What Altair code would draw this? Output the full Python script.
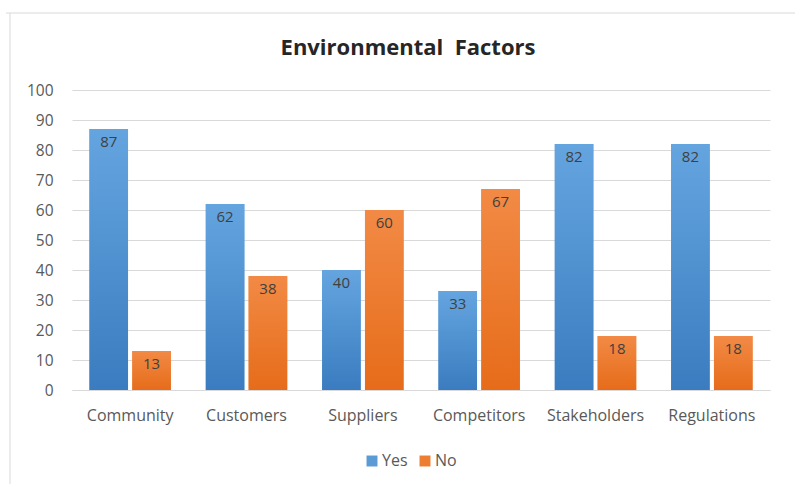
import altair as alt
import pandas as pd

categories = ["Community", "Customers", "Suppliers", "Competitors", "Stakeholders", "Regulations"]
yes_values = [87, 62, 40, 33, 82, 82]
no_values = [13, 38, 60, 67, 18, 18]
series = ["Yes", "No"]

rows = []
for c, y, n in zip(categories, yes_values, no_values):
    rows.append({"category": c, "series": "Yes", "value": y})
    rows.append({"category": c, "series": "No", "value": n})
df = pd.DataFrame(rows)

FONT = "Open Sans"

x_enc = alt.X("category:N", sort=categories, title=None,
              scale=alt.Scale(paddingInner=0.3, paddingOuter=0.15),
              axis=alt.Axis(labelAngle=0, labelFontSize=16, labelColor="#595959",
                            labelFont=FONT, ticks=False, domainColor="#D9D9D9",
                            labelPadding=17, grid=False))
xo_enc = alt.XOffset("series:N", sort=series, scale=alt.Scale(paddingInner=0.1))
y_enc = alt.Y("value:Q", title=None,
              scale=alt.Scale(domain=[0, 100]),
              axis=alt.Axis(values=list(range(0, 101, 10)), labelFontSize=15.5,
                            labelColor="#595959", labelFont=FONT, ticks=False,
                            domain=False, gridColor="#D9D9D9", labelPadding=19))

base = alt.Chart(df)

legend_bars = base.mark_bar().encode(
    x=x_enc, xOffset=xo_enc, y=y_enc,
    color=alt.Color("series:N", sort=series,
                    scale=alt.Scale(domain=series, range=["#5B9BD5", "#ED7D31"]),
                    legend=alt.Legend(title=None, orient="none", direction="horizontal",
                                      legendX=292, legendY=363, symbolType="square",
                                      symbolSize=120, labelFontSize=16, labelFont=FONT,
                                      labelColor="#595959", columnPadding=9,
                                      symbolStrokeWidth=0, labelOffset=2))
)

blue_grad = alt.Gradient(gradient="linear", x1=0, y1=0, x2=0, y2=1,
                         stops=[alt.GradientStop(color="#64A5E0", offset=0),
                                alt.GradientStop(color="#3B7CC0", offset=1)])
orange_grad = alt.Gradient(gradient="linear", x1=0, y1=0, x2=0, y2=1,
                           stops=[alt.GradientStop(color="#F28A45", offset=0),
                                  alt.GradientStop(color="#E66C1A", offset=1)])

yes_bars = base.transform_filter(alt.datum.series == "Yes").mark_bar(color=blue_grad).encode(
    x=x_enc, xOffset=xo_enc, y=y_enc)
no_bars = base.transform_filter(alt.datum.series == "No").mark_bar(color=orange_grad).encode(
    x=x_enc, xOffset=xo_enc, y=y_enc)

labels = base.mark_text(baseline="top", dy=6, fontSize=15, font=FONT, color="#404040").encode(
    x=x_enc, xOffset=xo_enc, y=y_enc, text=alt.Text("value:Q"))

frame_df = pd.DataFrame({"k": [0]})
frame_left = alt.Chart(frame_df).mark_rule(color="#D9D9D9", strokeWidth=1).encode(
    x=alt.value(-62), y=alt.value(-77), y2=alt.value(394))
frame_top = alt.Chart(frame_df).mark_rule(color="#D9D9D9", strokeWidth=1).encode(
    x=alt.value(-66), x2=alt.value(725), y=alt.value(-77))

chart = alt.layer(legend_bars, yes_bars, no_bars, labels, frame_left, frame_top).properties(
    width=698, height=300,
    title=alt.TitleParams("Environmental\u00a0 Factors", fontSize=22, font=FONT,
                          fontWeight="bold", color="#262626", offset=-47, dx=-13),
    autosize=alt.AutoSizeParams(type="none"),
    padding={"left": 72, "top": 90, "right": 25, "bottom": 94},
    background="white",
).configure(style={"cell": {"stroke": "transparent"}}).configure_view(
    stroke="transparent", strokeWidth=0)

chart.save("out.html", embed_options={"renderer": "svg", "actions": False})
